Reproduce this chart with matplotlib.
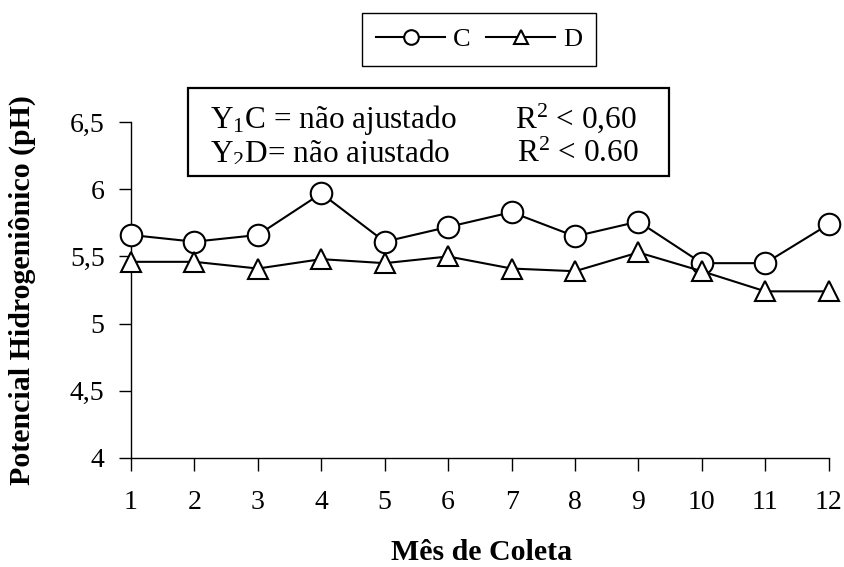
import matplotlib
matplotlib.use("Agg")
import matplotlib.pyplot as plt
from matplotlib.patches import Rectangle

plt.rcParams["font.family"] = ["Liberation Serif", "DejaVu Serif"]
plt.rcParams["mathtext.fontset"] = "custom"
plt.rcParams["mathtext.rm"] = "Liberation Serif"
plt.rcParams["mathtext.it"] = "Liberation Serif:italic"
plt.rcParams["mathtext.bf"] = "Liberation Serif:bold"

# Monthly pH readings for treatments C and D
months = [1, 2, 3, 4, 5, 6, 7, 8, 9, 10, 11, 12]
ph_c = [5.66, 5.61, 5.66, 5.97, 5.61, 5.72, 5.83, 5.65, 5.76, 5.45, 5.45, 5.74]
ph_d = [5.46, 5.46, 5.41, 5.48, 5.45, 5.50, 5.41, 5.39, 5.53, 5.39, 5.24, 5.24]
y_ticks = [4, 4.5, 5, 5.5, 6, 6.5]
y_tick_labels = ["4", "4,5", "5", "5,5", "6", "6,5"]

W, H = 844, 567
fig = plt.figure(figsize=(W / 100, H / 100), dpi=100)
ax = fig.add_axes([131 / W, 1 - 457.7 / H, (828.7 - 131) / W, (457.7 - 122.3) / H])

mk = dict(color="black", linewidth=1.5, markersize=15.5, markeredgewidth=1.5,
          markerfacecolor="white", markeredgecolor="black", clip_on=False, zorder=3)
line_c, = ax.plot(months, ph_c, marker="o", label="C", **mk)
mk_d = dict(mk)
mk_d["markersize"] = 14.5
line_d, = ax.plot(months, ph_d, marker="^", label="D", **mk_d)

ax.set_xlim(1, 12)
ax.set_ylim(4, 6.5)
ax.set_xticks(months)
ax.set_yticks(y_ticks)
ax.set_yticklabels(y_tick_labels)
for s in ("top", "right"):
    ax.spines[s].set_visible(False)
for s in ("left", "bottom"):
    ax.spines[s].set_linewidth(1.0)
ax.tick_params(axis="both", direction="out", length=9, width=1.0, labelsize=20)
ax.tick_params(axis="x", pad=14)
ax.tick_params(axis="y", pad=10)

fig.text(22 / W, 0.5 * ((1 - 457.7 / H) + (1 - 122.3 / H)), "Potencial Hidrogeniônico (pH)",
         rotation=90, ha="center", va="center", fontsize=21.5, fontweight="bold")
fig.text(482 / W, 1 - 552 / H, "Mês de Coleta", ha="center", va="center",
         fontsize=21.5, fontweight="bold")

# Regression note box
box = Rectangle((188 / W, 1 - 176 / H), (669 - 188) / W, (176 - 88) / H,
                transform=fig.transFigure, fill=True, facecolor="white",
                edgecolor="black", linewidth=1.6, zorder=5)
fig.patches.append(box)
clip = Rectangle((188 / W, 1 - 164 / H), (669 - 188) / W, (164 - 88) / H,
                 transform=fig.transFigure, fill=False, linewidth=0)
fig.patches.append(clip)
clip.set_visible(False)
notes = [
    (210, 128, "Y$_1$C = não ajustado"),
    (515, 128, "R$^2$ < 0,60"),
    (210, 162, "Y$_2$D= não ajustado"),
    (517, 162, "R$^2$ < 0.60"),
]
for x, y, s in notes:
    t = fig.text(x / W, 1 - y / H, s, ha="left", va="baseline", fontsize=22.5, zorder=6)
    t.set_clip_path(clip)

leg = fig.legend(handles=[line_c, line_d], loc="center",
                 bbox_to_anchor=(479 / W, 1 - 39.5 / H), ncol=2, fontsize=19,
                 frameon=True, fancybox=False, edgecolor="black", framealpha=1,
                 markerscale=0.68, handlelength=2.6, handletextpad=0.3,
                 columnspacing=0.6, borderpad=0.55, borderaxespad=0)
leg.get_frame().set_linewidth(1.0)

fig.savefig("out.png", dpi=100)
